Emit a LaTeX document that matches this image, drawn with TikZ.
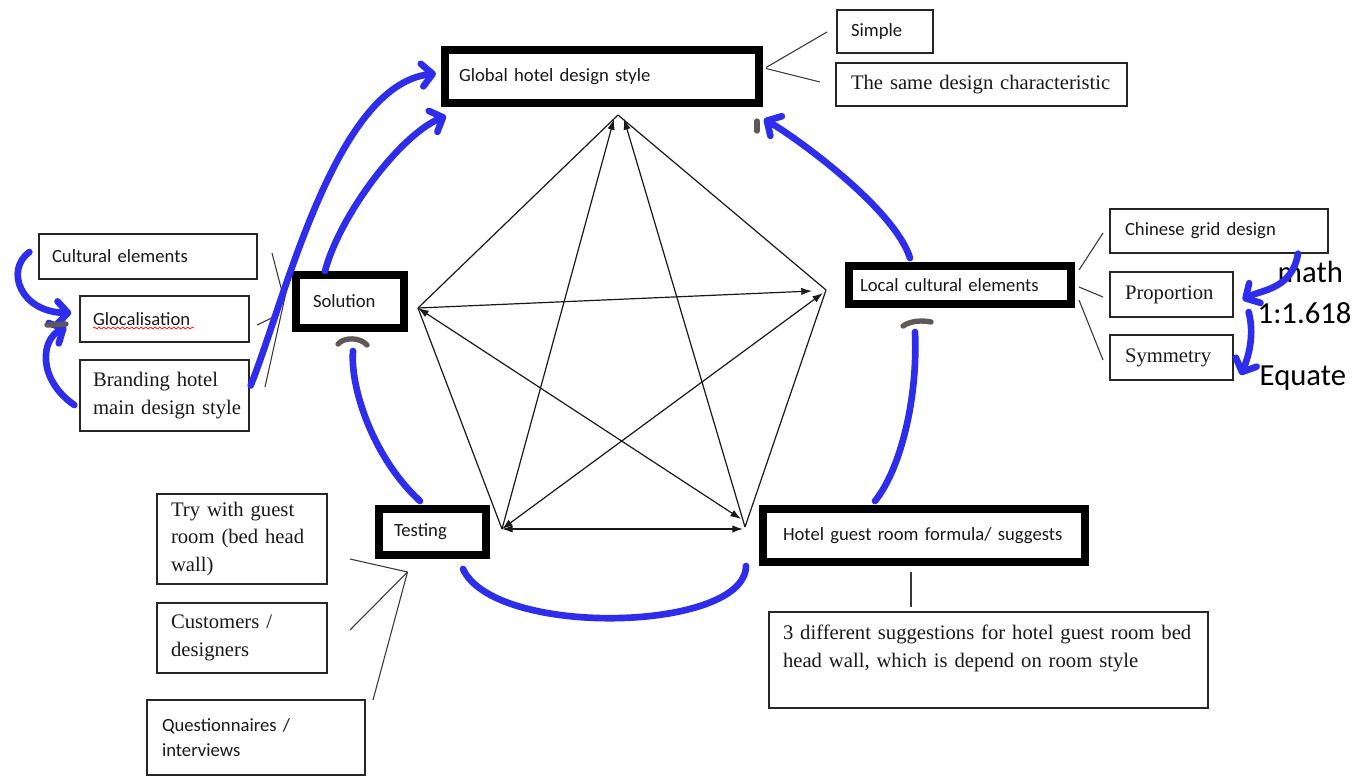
\documentclass[tikz,border=0pt]{standalone}
\usepackage{fontspec}
\usetikzlibrary{arrows.meta,calc,decorations.pathmorphing}
\newfontfamily\calf{Carlito}
\newfontfamily\cambf{Liberation Serif}
\definecolor{pen}{RGB}{45,45,235}
\definecolor{pengray}{RGB}{95,88,88}
\definecolor{lncol}{RGB}{55,55,55}
\newcommand\mybox[8]{%
  \pgfmathsetmacro\mybw{(#5-#3)*0.75}%
  \pgfmathsetmacro\mybh{(#6-#4)*0.75}%
  \pgfmathsetmacro\mybp{#7*0.75}%
  \pgfmathsetmacro\mybt{\mybw-2*\mybp}%
  \node[#2, minimum width=\mybw pt, minimum height=\mybh pt, inner xsep=\mybp pt, inner ysep=0pt, text width=\mybt pt] (#1) at ({(#3+#5)/2},{(#4+#6)/2}) {#8};}
\begin{document}
\begin{tikzpicture}[x=0.75pt,y=-0.75pt,
  hd/.tip={Latex[length=8pt,width=5.5pt]},
  smallbox/.style={draw=black!85, line width=1pt, align=left, fill=white},
  bigbox/.style={draw=black, line width=6pt, align=left, fill=white},
  cf/.style={font=\calf\fontsize{14}{18.75}\selectfont, text=black!90},
  sf/.style={font=\cambf\fontsize{15.5}{20.6}\selectfont, text=black!90},
  bigtext/.style={font=\calf\fontsize{23}{28}\selectfont, anchor=base west},
  conn/.style={draw=lncol, line width=0.8pt},
  pl/.style={draw=black!90, line width=0.9pt},
  hand/.style={draw=pen, line width=5pt, line cap=round, line join=round},
  handarr/.style={hand, -{Straight Barb[length=8pt,width=17pt,round]}},
  penmark/.style={draw=pengray, line width=4pt, line cap=round, line join=round}]
\useasboundingbox (0,0) rectangle (1363,776);
\fill[white] (0,0) rectangle (1363,776);

% boxes
\mybox{glob}{bigbox,cf}{445}{50}{759}{103}{14}{Global hotel design style}
\mybox{simple}{smallbox,cf}{837}{10}{933}{53}{14}{Simple}
\mybox{same}{smallbox,sf}{836}{63}{1127}{106}{15}{\mbox{The same design characteristic}}
\mybox{cult}{smallbox,cf}{39}{234}{257}{279}{13}{Cultural elements}
\mybox{glo}{smallbox,cf}{80}{296}{249}{342}{13}{Glocalisation}
\mybox{brand}{smallbox,sf}{80}{360}{249}{431}{13}{\mbox{Branding hotel}\\\mbox{main design style}}
\mybox{sol}{bigbox,cf}{296}{275}{404}{328}{17}{Solution}
\mybox{loc}{bigbox,cf}{849}{266}{1071}{304}{11}{\mbox{Local cultural elements}}
\mybox{chin}{smallbox,cf}{1110}{209}{1328}{253}{15}{Chinese grid design}
\mybox{prop}{smallbox,sf}{1110}{272}{1233}{317}{15}{Proportion}
\mybox{sym}{smallbox,sf}{1110}{335}{1233}{380}{15}{Symmetry}
\mybox{test}{bigbox,cf}{379}{509}{486}{555}{15}{Testing}
\mybox{hotel}{bigbox,cf}{763}{509}{1085}{562}{20}{\mbox{Hotel guest room formula/ suggests}}
\mybox{try}{smallbox,sf}{157}{494}{327}{584}{14}{\mbox{Try with guest}\\\mbox{room (bed head}\\wall)}
\mybox{cust}{smallbox,sf}{157}{603}{327}{673}{14}{Customers /\\designers}
\mybox{quest}{smallbox,cf}{147}{700}{365}{775}{15}{Questionnaires /\\interviews}
\mybox{sug}{smallbox,sf}{769}{612}{1208}{708}{14}{\mbox{3 different suggestions for hotel guest room bed}\\\mbox{head wall, which is depend on room style}\\\mbox{}}

% spell-check underline
\draw[red, line width=0.5pt, decorate, decoration={snake, amplitude=0.7pt, segment length=3.5pt}] (93,328) -- (194,328);

% big texts
\node[bigtext] (m1) at (1273,282) {math};
\node[bigtext] (m2) at (1253,323) {1:1.618};
\node[bigtext] (m3) at (1255,385) {Equate};

% pentagon
\coordinate (T) at (618,115);
\coordinate (T1) at (614,119);
\coordinate (T2) at (624,119);
\coordinate (L) at (418,308);
\coordinate (R) at (826,290);
\coordinate (Rh) at (812,291);
\coordinate (Rd) at (823,293);
\coordinate (BL) at (502,529);
\coordinate (BR) at (745,527);
\coordinate (BRd) at (741,519);
\coordinate (BRh) at (743,529);
\draw[pl] (T) -- (L);
\draw[pl] (T) -- (R);
\draw[pl] (L) -- (BL);
\draw[pl] (R) -- (BR);
\draw[pl,-hd] (BL) -- (T1);
\draw[pl,-hd] (BR) -- (T2);
\draw[pl,-hd] (L) -- (Rh);
\draw[pl,hd-hd] (L) -- (BRd);
\draw[pl,hd-hd] (BL) -- (Rd);
\draw[pl,hd-hd] (BL) -- (BRh);

% thin connectors
\coordinate (g1) at (827,32);
\coordinate (g2) at (820,82);
\draw[conn] ($(glob.east)+(3,-9)$) -- (g1);
\draw[conn] ($(glob.east)+(3,-8)$) -- (g2);
\coordinate (s1) at (272,253);
\coordinate (s2) at (257,325);
\coordinate (s3) at (265,387);
\draw[conn] (s1) -- ($(sol.west)+(-10,-10)$);
\draw[conn] (s2) -- ($(sol.west)+(-13,13)$);
\draw[conn] (s3) -- ($(sol.west)+(-6,-9)$);
\coordinate (l1) at (1103,233);
\coordinate (l2) at (1103,297);
\coordinate (l3) at (1103,360);
\draw[conn] ($(loc.east)+(4,-15)$) -- (l1);
\draw[conn] ($(loc.east)+(4,2)$) -- (l2);
\draw[conn] ($(loc.east)+(4,15)$) -- (l3);
\coordinate (tp) at ($(test.south)+(-25,13)$);
\coordinate (t1) at (350,559);
\coordinate (t2) at (350,630);
\coordinate (t3) at (373,700);
\draw[conn] (tp) -- (t1);
\draw[conn] (tp) -- (t2);
\draw[conn] (tp) -- (t3);
\draw[conn] ($(hotel.south)+(-13,6)$) -- ++(0,35);

% hand-drawn blue strokes
\draw[handarr] ($(brand.east)+(1,-10)$) .. controls (285,300) and (335,85) .. ($(glob.west)+(-5,-3)$);
\draw[handarr] ($(sol.north)+(-25,0)$) .. controls (340,215) and (400,135) .. ($(glob.south west)+(5,9)$);
\draw[handarr] ($(loc.north)+(-50,-4)$) .. controls (895,210) and (800,140) .. ($(glob.south east)+(1,12)$);
\draw[hand] ($(hotel.north)+(-49,-4)$) .. controls (900,470) and (918,400) .. ($(loc.south)+(-45,24)$);
\draw[hand] ($(test.south)+(30.5,10)$) .. controls (495,638) and (745,632) .. ($(hotel.south west)+(-13,0)$);
\draw[hand] ($(test.north)+(-12.5,-4)$) .. controls (375,460) and (350,390) .. ($(sol.south)+(3,19)$);
\draw[handarr] ($(cult.west)+(-9,-4.5)$) .. controls (5,270) and (20,312) .. ($(glo.west)+(-8,-6)$);
\draw[handarr] ($(brand.west)+(-5,9.5)$) .. controls (38,380) and (40,340) .. ($(glo.west)+(-13,8)$);
\draw[handarr] ($(chin.south)+(79,0)$) .. controls (1292,290) and (1260,290) .. ($(prop.east)+(9,5.5)$);
\draw[handarr] ($(prop.east)+(15,17.5)$) .. controls (1256,340) and (1245,365) .. ($(sym.east)+(7,17.5)$);

% gray pen marks
\draw[penmark] (47,325) -- (66,324);
\draw[penmark] (338,344) .. controls (344,337) and (360,337) .. (367,345);
\draw[penmark] (903,326) .. controls (910,321) and (922,320) .. (931,322);
\draw[penmark] (757,121) -- (757,131);
\end{tikzpicture}
\end{document}
